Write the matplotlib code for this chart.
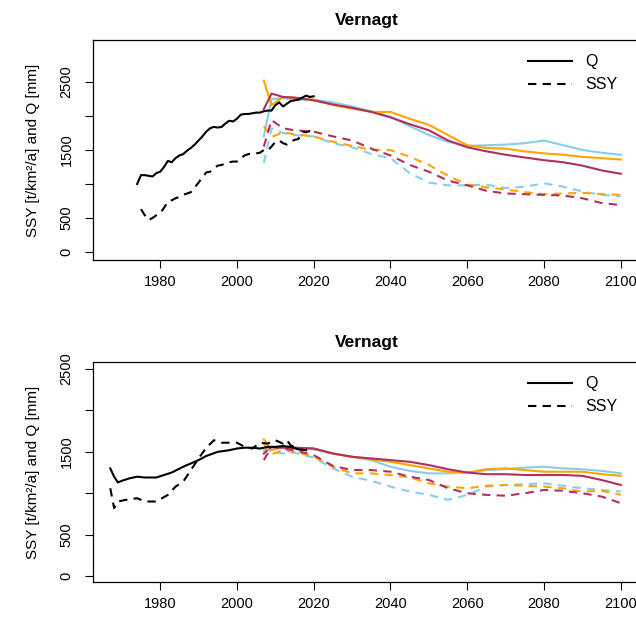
import matplotlib
matplotlib.use("Agg")
import matplotlib.pyplot as plt

plt.rcParams['font.family'] = ['Liberation Sans', 'DejaVu Sans']

ORANGE = "#FFA500"
BLUE = "#87CEEB"
MAROON = "#B03060"

# ---------------- top panel ----------------
top_obs_years = list(range(1974, 2021))
top_obs_Q = [1000, 1130, 1130, 1120, 1110, 1160, 1180, 1250, 1340, 1320, 1380, 1420,
             1440, 1490, 1530, 1580, 1640, 1700, 1770, 1820, 1840, 1830, 1840, 1890,
             1930, 1920, 1960, 2020, 2030, 2030, 2040, 2050, 2050, 2070, 2080, 2080,
             2160, 2200, 2140, 2180, 2220, 2230, 2240, 2270, 2300, 2280, 2290]
top_obs_SSY_years = [1975, 1976, 1977, 1978, 1979, 1980, 1981, 1982, 1983, 1984, 1985, 1986,
                     1987, 1988, 1989, 1990, 1991, 1992, 1993, 1994, 1995, 1996, 1997, 1998,
                     1999, 2000, 2001, 2002, 2003, 2004, 2005, 2006, 2007, 2008, 2009, 2010,
                     2011, 2012, 2013, 2014, 2015, 2016, 2017, 2018, 2019, 2020]
top_obs_SSY = [630, 540, 470, 500, 540, 570, 650, 740, 760, 790, 810, 840, 860, 880, 950,
               1020, 1100, 1170, 1180, 1230, 1270, 1280, 1300, 1320, 1330, 1330, 1380, 1420,
               1440, 1450, 1450, 1460, 1500, 1490, 1550, 1620, 1640, 1600, 1580, 1620, 1650,
               1660, 1770, 1760, 1780, 1790]

scen_years = [2007, 2009, 2012, 2015, 2020, 2025, 2030, 2035, 2040, 2045, 2050, 2055, 2060,
              2065, 2070, 2075, 2080, 2085, 2090, 2095, 2100]
top_Q_orange = [2520, 2160, 2280, 2270, 2240, 2160, 2110, 2060, 2060, 1960, 1870, 1720, 1570,
                1530, 1520, 1480, 1450, 1430, 1400, 1380, 1360]
top_Q_blue = [1700, 2250, 2260, 2240, 2240, 2200, 2140, 2070, 1990, 1850, 1720, 1620, 1560,
              1570, 1580, 1600, 1640, 1570, 1500, 1460, 1430]
top_Q_maroon = [2100, 2330, 2280, 2270, 2230, 2170, 2120, 2060, 1980, 1880, 1790, 1640, 1540,
                1480, 1430, 1390, 1350, 1320, 1270, 1200, 1150]
top_S_orange = [1850, 1690, 1760, 1730, 1700, 1620, 1560, 1500, 1500, 1400, 1280, 1120, 990,
                950, 920, 880, 850, 860, 870, 850, 840]
top_S_blue = [1310, 1820, 1750, 1720, 1700, 1600, 1540, 1440, 1380, 1160, 1020, 980, 980,
              990, 940, 960, 1010, 960, 890, 840, 820]
top_S_maroon = [1550, 1940, 1820, 1790, 1770, 1700, 1640, 1520, 1420, 1280, 1180, 1050, 980,
                900, 860, 850, 840, 830, 790, 720, 690]

# ---------------- bottom panel ----------------
bot_obs_Q_years = [1967, 1968, 1969, 1970, 1972, 1974, 1976, 1979, 1981, 1983, 1986, 1988,
                   1990, 1992, 1995, 1998, 2000, 2002, 2004, 2006, 2008, 2010, 2012, 2014,
                   2016, 2018]
bot_obs_Q = [1300, 1200, 1130, 1150, 1180, 1200, 1190, 1190, 1220, 1250, 1320, 1360, 1400,
             1450, 1500, 1520, 1540, 1550, 1550, 1540, 1560, 1560, 1570, 1560, 1530, 1520]
bot_obs_S_years = [1967, 1968, 1969, 1971, 1974, 1976, 1979, 1982, 1984, 1986, 1988, 1990,
                   1992, 1994, 1996, 1998, 2000, 2002, 2004, 2006, 2008, 2010, 2011, 2012,
                   2013, 2014, 2016]
bot_obs_S = [1060, 820, 900, 920, 940, 900, 900, 980, 1080, 1140, 1280, 1420, 1550, 1640,
             1610, 1610, 1610, 1560, 1540, 1610, 1600, 1640, 1620, 1600, 1640, 1580, 1530]
bot_Q_orange = [1650, 1520, 1560, 1550, 1540, 1480, 1440, 1410, 1380, 1340, 1300, 1260, 1250,
                1290, 1300, 1280, 1260, 1260, 1260, 1230, 1210]
bot_Q_blue = [1520, 1540, 1550, 1540, 1530, 1480, 1440, 1400, 1320, 1270, 1240, 1240, 1250,
              1280, 1290, 1310, 1320, 1300, 1290, 1270, 1240]
bot_Q_maroon = [1480, 1560, 1550, 1550, 1540, 1480, 1440, 1420, 1400, 1380, 1340, 1290, 1250,
                1230, 1230, 1220, 1220, 1220, 1210, 1160, 1100]
bot_S_orange = [1600, 1470, 1520, 1500, 1440, 1320, 1240, 1240, 1220, 1190, 1120, 1080, 1060,
                1090, 1100, 1090, 1080, 1060, 1020, 1030, 980]
bot_S_blue = [1560, 1500, 1480, 1490, 1430, 1300, 1200, 1150, 1080, 1020, 980, 920, 980,
              1080, 1100, 1110, 1120, 1090, 1060, 1040, 1020]
bot_S_maroon = [1400, 1560, 1540, 1520, 1460, 1330, 1280, 1280, 1260, 1200, 1160, 1060, 1000,
                980, 970, 1000, 1040, 1030, 1000, 960, 880]

yticks = [0, 500, 1000, 1500, 2000, 2500]
ytick_labels = ["0", "500", "", "1500", "", "2500"]
xticks = [1980, 2000, 2020, 2040, 2060, 2080, 2100]

fig = plt.figure(figsize=(6.36, 6.26), dpi=100)
W, H = 636, 626
ax1 = fig.add_axes([93 / W, 1 - 260 / H, 547 / W, 220 / H])
ax2 = fig.add_axes([93 / W, 1 - 582 / H, 547 / W, 220 / H])


def draw(ax, oQy, oQ, oSy, oS, Qs, Ss, ylim):
    lw = 1.5
    for vals, c in zip(Qs, [BLUE, ORANGE, MAROON]):
        ax.plot(scen_years, vals, color=c, lw=lw, ls='-')
    for vals, c in zip(Ss, [BLUE, ORANGE, MAROON]):
        ax.plot(scen_years, vals, color=c, lw=lw, ls=(0, (4, 3)))
    ax.plot(oQy, oQ, color='black', lw=lw, ls='-', label='Q')
    ax.plot(oSy, oS, color='black', lw=lw, ls=(0, (4, 3)), label='SSY')
    ax.set_xlim(1962.5, 2105)
    ax.set_ylim(*ylim)
    ax.set_yticks(yticks)
    ax.set_yticklabels(ytick_labels, rotation=90, va='center')
    ax.set_xticks(xticks)
    ax.tick_params(labelsize=10.5, length=6)
    ax.tick_params(axis='y', pad=8)
    ax.tick_params(axis='x', pad=5)
    ax.set_title("Vernagt", fontweight='bold', fontsize=12.5, pad=11)
    ax.set_ylabel("SSY [t/km²/a] and Q [mm]", fontsize=11, labelpad=14)
    ax.legend(loc='upper right', frameon=False, fontsize=11.5, handlelength=2.8,
              bbox_to_anchor=(0.985, 1.0))
    for s in ax.spines.values():
        s.set_linewidth(0.9)


draw(ax1, top_obs_years, top_obs_Q, top_obs_SSY_years, top_obs_SSY,
     [top_Q_blue, top_Q_orange, top_Q_maroon], [top_S_blue, top_S_orange, top_S_maroon],
     (-118, 3118))
draw(ax2, bot_obs_Q_years, bot_obs_Q, bot_obs_S_years, bot_obs_S,
     [bot_Q_blue, bot_Q_orange, bot_Q_maroon], [bot_S_blue, bot_S_orange, bot_S_maroon],
     (-72, 2585))

fig.savefig("out.png", dpi=100)
